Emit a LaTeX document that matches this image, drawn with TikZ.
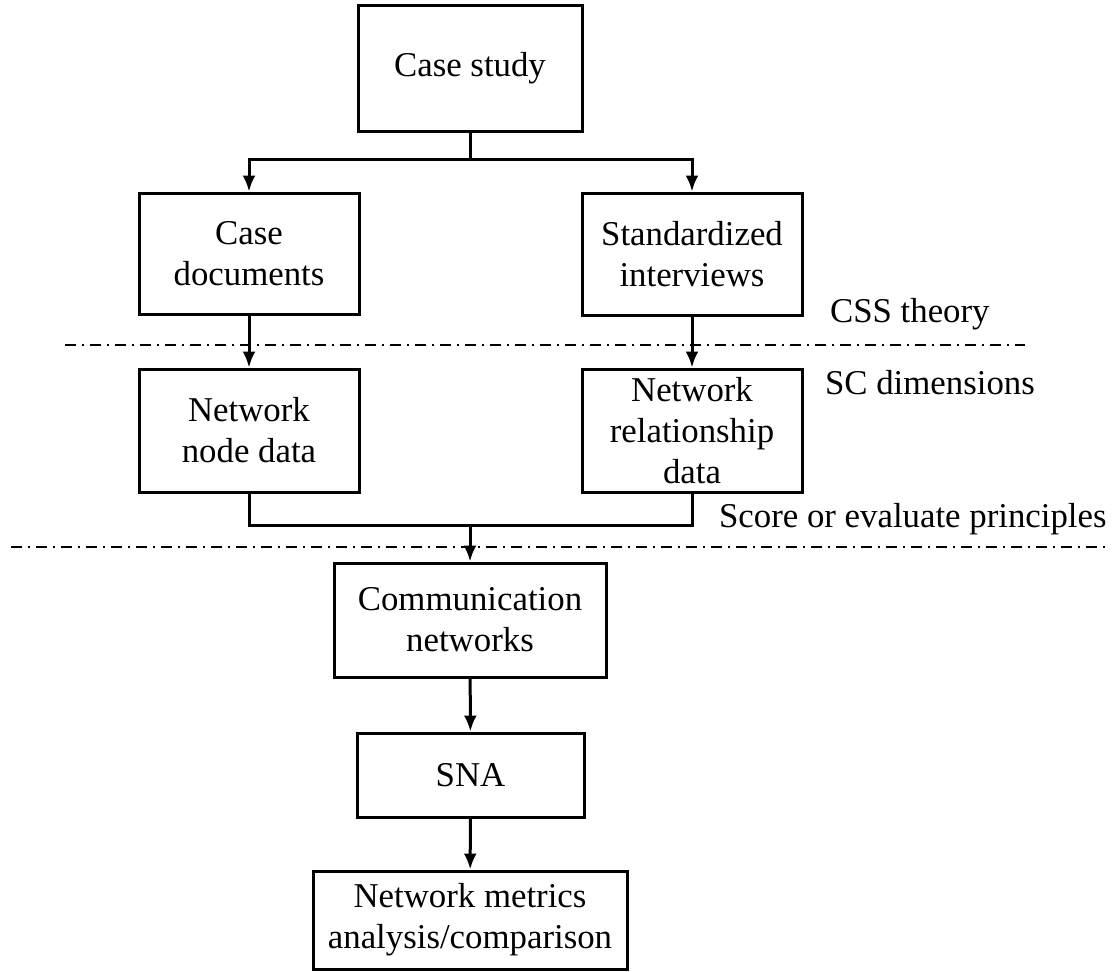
\documentclass[tikz,border=0pt]{standalone}
\usepackage{fontspec}
\setmainfont{Liberation Serif}
\usepackage{tikz}
\usetikzlibrary{calc}
\usetikzlibrary{arrows.meta}
\usetikzlibrary{positioning}

\begin{document}
\begin{tikzpicture}[
x=0.5pt,y=-0.5pt,
every node/.style={font=\fontsize{17.4}{20.5}\selectfont},
box/.style={draw,line width=1.5pt,align=center,inner sep=2pt},
-->/.style={-{Latex[length=8pt,width=6.5pt]},line width=1.5pt},
---/.style={-,line width=1.5pt},
sep/.style={line width=1pt,dash pattern=on 5.5pt off 3pt on 1pt off 3pt},
]
\useasboundingbox (0,0) rectangle (1118,971);

\node[box,minimum width=112pt,minimum height=63pt] (study) at (470,68) {Case study};
\node[box,minimum width=110pt,minimum height=60.5pt] (docs) at (249,253.5) {Case\\documents};
\node[box,minimum width=110pt,minimum height=61pt] (intv) at (692,254) {Standardized\\interviews};
\node[box,minimum width=110pt,minimum height=61.5pt] (nodes) at (249,430.5) {Network\\node data};
\node[box,minimum width=110pt,minimum height=61.5pt,inner sep=0pt] (rels) at (692,430.5) {Network\\relationship\\data};
\node[box,minimum width=136pt,minimum height=57pt] (comm) at (470,620) {Communication\\networks};
\node[box,minimum width=113.5pt,minimum height=42pt] (sna) at (470.5,775) {SNA};
\node[box,minimum width=157pt,minimum height=49pt] (metr) at (470,920) {Network metrics\\analysis/comparison};

\node[anchor=base west] (css) at (823,322) {CSS theory};
\node[anchor=base west] (scd) at (818,394) {SC dimensions};
\node[anchor=base west] (score) at (712,527) {Score or evaluate principles};

\coordinate (split) at (470,159);
\coordinate (join) at (470,525);
\coordinate (s1a) at (65,345);
\coordinate (s1b) at (1025,345);
\coordinate (s2a) at (11,547);
\coordinate (s2b) at (1105,547);

\draw[sep] (s1a) -- (s1b);
\draw[sep] (s2a) -- (s2b);

\draw[---] (study.south) -- (split);
\draw[-->] (split) -| (docs.north);
\draw[-->] (split) -| (intv.north);
\draw[-->] (docs) -- (nodes);
\draw[-->] (intv) -- (rels);
\draw[---] (nodes.south) |- (join);
\draw[---] (rels.south) |- (join);
\draw[-->] (join) -- (comm.north);
\draw[-->] (comm) -- (sna);
\draw[-->] (sna) -- (metr);

\end{tikzpicture}
\end{document}
